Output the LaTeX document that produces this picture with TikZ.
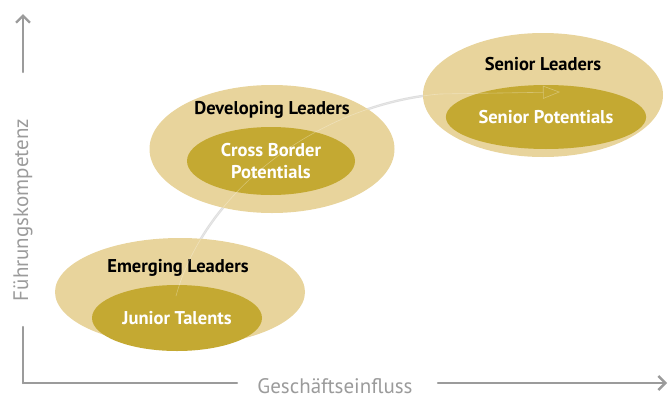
\documentclass[tikz,border=0pt]{standalone}
\usepackage{fontspec}
\setmainfont{PT Sans}
\usetikzlibrary{arrows.meta,shapes.geometric}
\definecolor{sand}{RGB}{232,212,156}
\definecolor{gold}{RGB}{196,169,50}
\definecolor{axisgray}{RGB}{155,155,155}
\begin{document}
\begin{tikzpicture}[x=1pt,y=-1pt,line join=round,line cap=round]
			\tikzset{outer/.style={ellipse,fill=sand,minimum width=#1},
				inner/.style={ellipse,fill=gold,text=white,font=\fontsize{18.5}{22}\selectfont\bfseries,align=center},
				head/.style={font=\fontsize{18.5}{20}\selectfont\bfseries,text=black},
				axis/.style={draw=axisgray,line width=2.4pt},
				axlabel/.style={text=axisgray,font=\fontsize{21}{23}\selectfont},
				path/.style={-{Triangle[open,length=17pt,width=13pt]}}}
			\useasboundingbox (0,0) rectangle (669,399);
			\clip (0,0) rectangle (669,399);
			% axes
			\coordinate (O) at (23,383);
			\node[axlabel,rotate=90] (ylab) at (23,210) {Führungskompetenz};
			\node[axlabel] (xlab) at (335,386) {Geschäftseinfluss};
			\draw[axis] (O) -- (23,327);
			\draw[axis,-{Straight Barb[length=7pt,width=14pt]}] (23,72) -- (23,14);
			\draw[axis] (O) -- (237,383);
			\draw[axis,-{Straight Barb[length=7pt,width=14pt]}] (438,383) -- (667,383);
			% career path
			\coordinate (start) at (176,296);
			\coordinate (goal) at (560,92);
			\draw[path,draw=black!13,line width=2.4pt]
				(start) .. controls (205,190) and (320,104) .. (440,94) -- (goal);
			% stages
			\node[outer=250pt,minimum height=108pt] (emerging) at (180,292) {};
			\node[outer=245pt,minimum height=128pt] (developing) at (272,149) {};
			\node[outer=240pt,minimum height=124pt] (senior) at (543,95) {};
			\node[inner,minimum width=170pt,minimum height=66pt] (junior) at (177,318) {Junior Talents};
			\node[inner,minimum width=168pt,minimum height=68pt] (crossborder) at (271,161) {Cross Border\\Potentials};
			\node[inner,minimum width=168pt,minimum height=64pt] (seniorpot) at (546,117) {Senior Potentials};
			\node[head] (emerginglab) at (178,268) {Emerging Leaders};
			\node[head] (developinglab) at (272,110) {Developing Leaders};
			\node[head] (seniorlab) at (543,64) {Senior Leaders};
			% faint path across the stages
			\draw[path,draw=white,opacity=.3,line width=.6pt]
				(start) .. controls (205,190) and (320,104) .. (440,94) -- (goal);
			\end{tikzpicture}
\end{document}
